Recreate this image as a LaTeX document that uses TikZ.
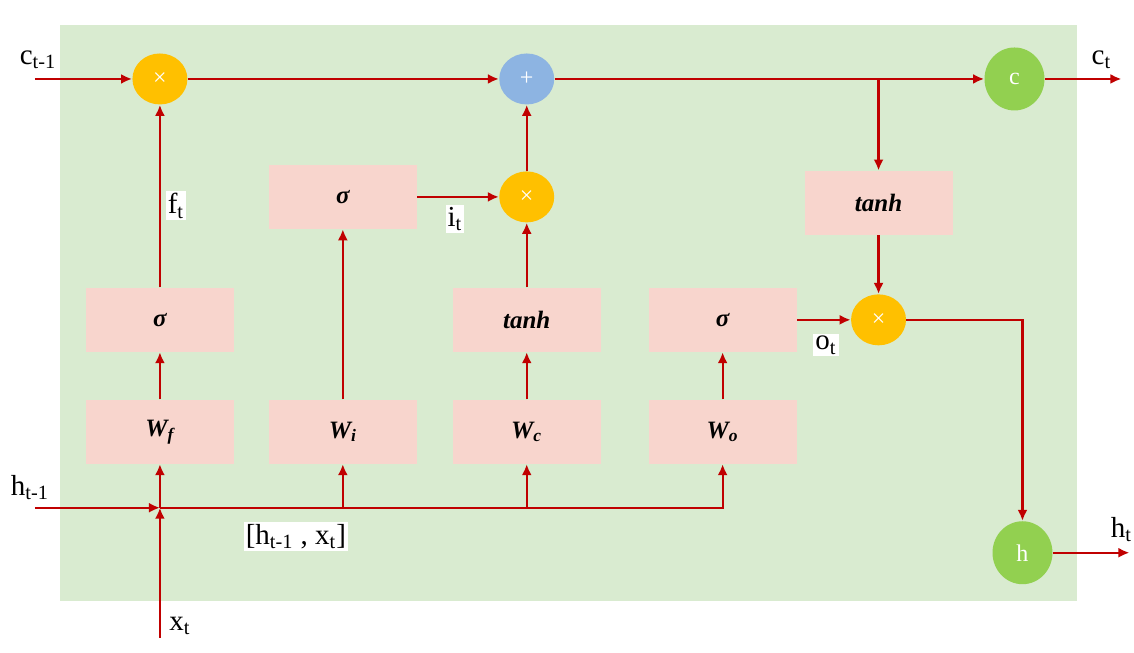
\documentclass[tikz,border=0pt]{standalone}
\usepackage{fontspec}
\setmainfont{Liberation Serif}
\usetikzlibrary{positioning, shapes.geometric, arrows.meta}

\definecolor{cellgreen}{HTML}{D9EBD0}
\definecolor{boxpink}{HTML}{F8D5CD}
\definecolor{opyellow}{HTML}{FFC000}
\definecolor{opblue}{HTML}{8DB4E2}
\definecolor{outgreen}{HTML}{92D050}
\definecolor{wirered}{HTML}{C00000}

\begin{document}
\begin{tikzpicture}[
		x=0.5pt, y=-0.5pt,
		% Style for the gate boxes
		gate/.style={fill=boxpink, minimum width=74pt, minimum height=32pt, inner sep=0pt,
			font=\fontsize{12.5}{14}\selectfont\bfseries\itshape},
		% Pointwise operations and outputs
		op-mul/.style={ellipse, fill=opyellow, minimum width=27.5pt, minimum height=25.5pt,
			inner sep=0pt, text=white, font=\fontsize{12}{14}\selectfont},
		op-add/.style={op-mul, fill=opblue},
		op-out/.style={ellipse, fill=outgreen, minimum width=30pt, minimum height=31.5pt,
			inner sep=0pt, text=white, font=\fontsize{12}{14}\selectfont},
		% Signal lines
		wire/.style={draw=wirered, line width=1.1pt},
		flow/.style={wire, -{Latex[length=5.5pt,width=5pt]}},
		% Labels
		sig label/.style={font=\fontsize{14.5}{16}\selectfont, inner sep=1pt},
		tag label/.style={sig label, fill=white}
		]
		
		% ==============================================================================
		% Canvas
		% ==============================================================================
		\fill[white] (0,0) rectangle (1134,653);
		\fill[cellgreen] (60,25) rectangle (1078,601);
		
		% ==============================================================================
		% Cell state line
		% ==============================================================================
		\coordinate (cIn) at (35,79);
		\coordinate (cEnd) at (1122,79);
		\coordinate (cTap) at (879,79);
		\node[op-mul] (mulF) at (160,79) {×};
		\node[op-add] (addC) at (527,79) {+};
		\node[op-out] (cOut) at (1015,79) {c};
		
		% Gates
		\node[gate] (sigI) at (343,197) {σ};
		\node[op-mul] (mulI) at (527,197) {×};
		\node[gate] (tanhC) at (879,203) {tanh};
		\node[gate] (sigF) at (160,320) {σ};
		\node[gate] (tanhG) at (527,320) {tanh};
		\node[gate] (sigO) at (723,320) {σ};
		\node[op-mul] (mulO) at (879,320) {×};
		
		% Weights
		\node[gate] (Wf) at (160,432) {W\textsubscript{f}};
		\node[gate] (Wi) at (343,432) {W\textsubscript{i}};
		\node[gate] (Wc) at (527,432) {W\textsubscript{c}};
		\node[gate] (Wo) at (723,432) {W\textsubscript{o}};
		
		% Inputs and hidden output
		\coordinate (hIn) at (35,508);
		\coordinate (xIn) at (160,638);
		\coordinate (join) at (160,508);
		\node[op-out] (hOut) at (1023,553) {h};
		\coordinate (hEnd) at (1130,553);
		
		% ==============================================================================
		% Connectors
		% ==============================================================================
		\draw[flow] (cIn) -- (mulF);
		\draw[flow] (mulF) -- (addC);
		\draw[flow] (addC) -- (cOut);
		\draw[flow] (cOut) -- (cEnd);
		\draw[flow] (cTap) -- (tanhC);
		
		\draw[flow] (hIn) -- (join);
		\draw[flow] (xIn) -- (join);
		\draw[flow] (join) -- (Wf);
		\draw[flow] (Wi |- join) -- (Wi);
		\draw[flow] (Wc |- join) -- (Wc);
		\draw[flow] (join) -| (Wo);
		
		\draw[flow] (Wf) -- (sigF);
		\draw[flow] (Wi) -- (sigI);
		\draw[flow] (Wc) -- (tanhG);
		\draw[flow] (Wo) -- (sigO);
		
		\draw[flow] (sigF) -- (mulF);
		\draw[flow] (sigI) -- (mulI);
		\draw[flow] (tanhG) -- (mulI);
		\draw[flow] (mulI) -- (addC);
		\draw[flow] (sigO) -- (mulO);
		\draw[flow] (tanhC) -- (mulO);
		\draw[flow] (mulO) -| (hOut);
		\draw[flow] (hOut) -- (hEnd);
		
		% ==============================================================================
		% Labels
		% ==============================================================================
		\node[sig label] (lblC0) at (38,60) {c\textsubscript{t-1}};
		\node[sig label] (lblC1) at (1102,60) {c\textsubscript{t}};
		\node[sig label] (lblH0) at (30,488) {h\textsubscript{t-1}};
		\node[sig label] (lblH1) at (1122,530) {h\textsubscript{t}};
		\node[sig label] (lblX) at (180,626) {x\textsubscript{t}};
		\node[tag label] (lblF) at (176,206) {f\textsubscript{t}};
		\node[tag label, below right=4pt and 14pt of sigI.east] (lblI) {i\textsubscript{t}};
		\node[tag label, below right=7pt and 8pt of sigO.east] (lblO) {o\textsubscript{t}};
		\node[tag label] (lblJoin) at (296,537) {[h\textsubscript{t-1} , x\textsubscript{t}]};
	\end{tikzpicture}
\end{document}
